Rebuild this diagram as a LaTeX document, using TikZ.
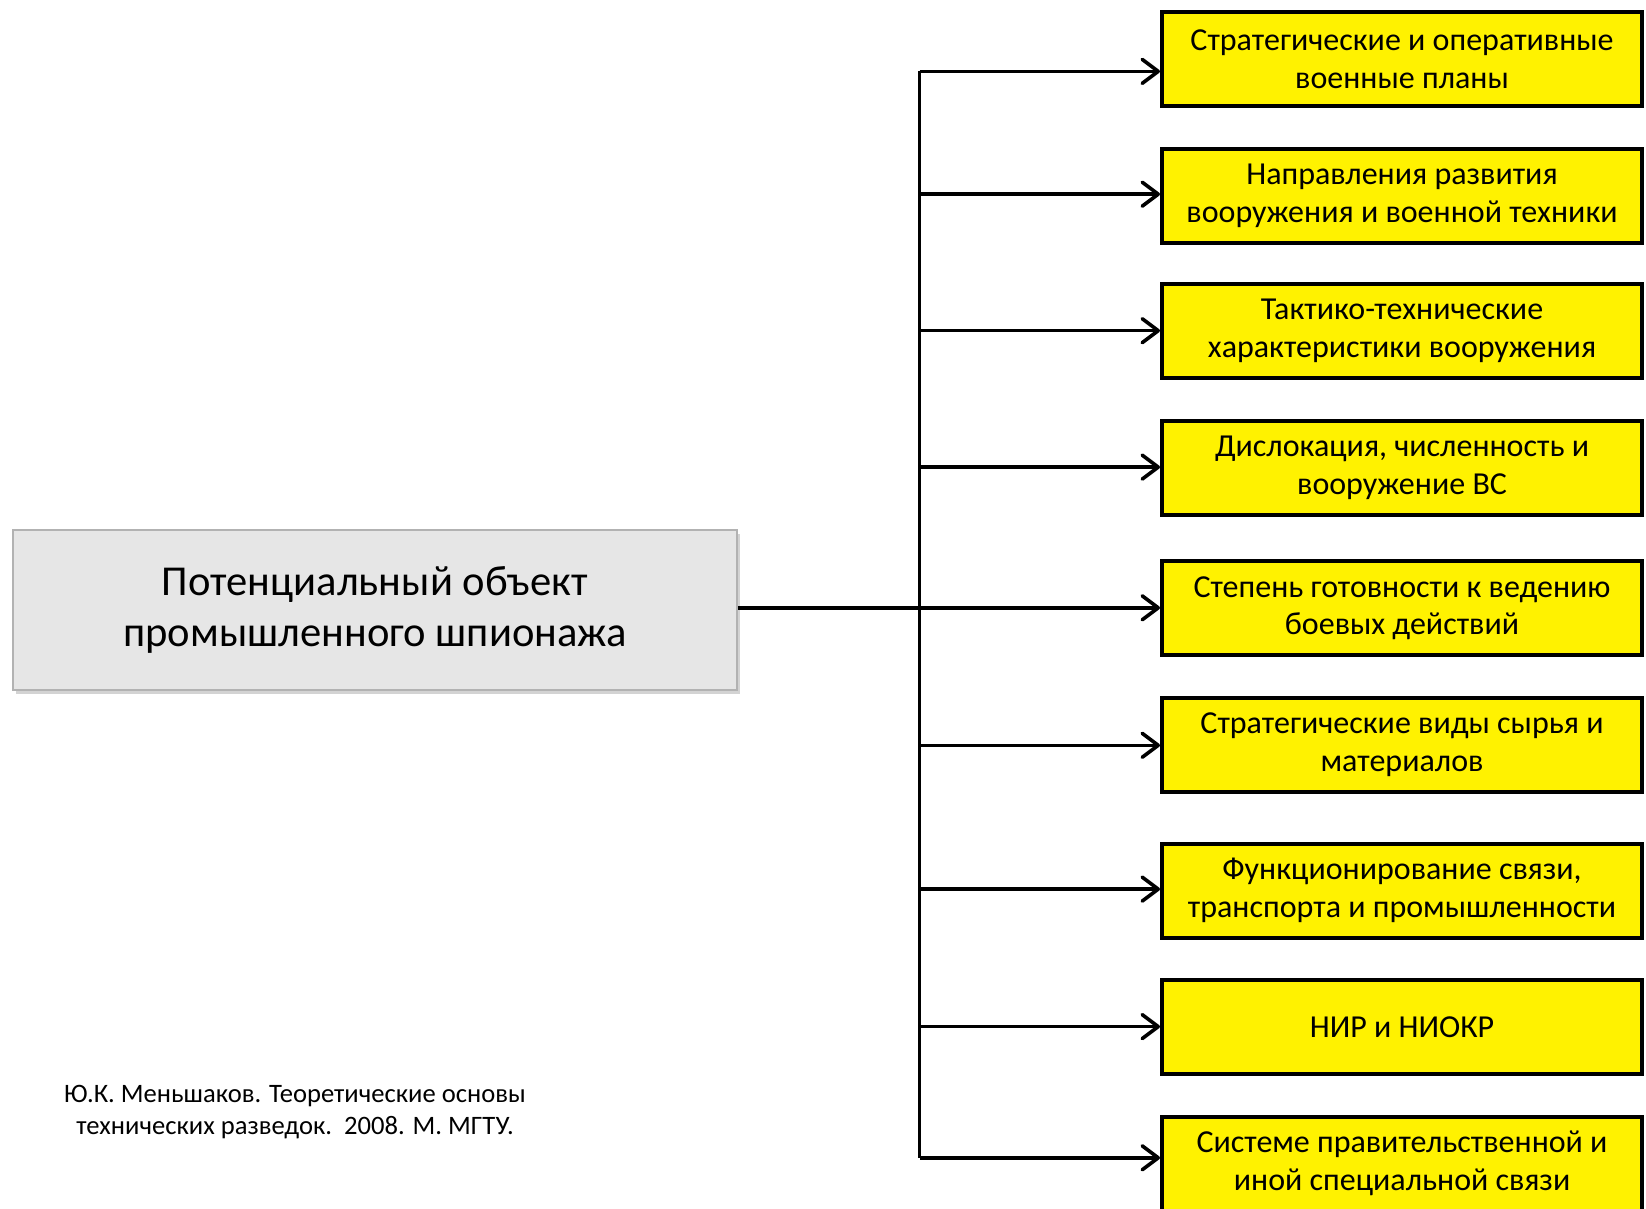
\documentclass[tikz,border=0pt]{standalone}
\usepackage{fontspec}
\setmainfont{Carlito}
\usetikzlibrary{arrows.meta,shadows}

\definecolor{boxgray}{HTML}{E6E6E6}

\tikzset{
  source/.style={draw=black!30, line width=0.8pt, fill=boxgray,
    minimum width=362pt, minimum height=80pt, align=center,
    font=\fontsize{21.3}{25.8}\selectfont,
    drop shadow={shadow xshift=1.5pt, shadow yshift=-2pt, opacity=0.35}},
  item/.style={draw=black, line width=2pt, fill=yellow,
    minimum width=240pt, minimum height=47pt, align=center,
    font=\fontsize{16}{18.9}\selectfont},
  link/.style={draw=black, line width=1.8pt},
  arrowline/.style={link, -{Straight Barb[length=8pt,width=12pt,line width=1.8pt,round]}}
}

\begin{document}
\begin{tikzpicture}[x=0.5pt,y=-0.5pt]
\useasboundingbox (0,0) rectangle (1646,1209);
\clip (0,0) rectangle (1646,1209);

% central object
\node[source] (obj) at (375,610) {Потенциальный объект\\промышленного шпионажа};

% targets
\node[item] (s1) at (1402,59.3) {Стратегические и оперативные\\военные планы};
\node[item] (s2) at (1402,195.8) {Направления развития\\вооружения и военной техники};
\node[item] (s3) at (1402,331.2) {Тактико-технические\\характеристики вооружения};
\node[item] (s4) at (1402,467.6) {Дислокация, численность и\\вооружение ВС};
\node[item] (s5) at (1402,608.3) {Степень готовности к ведению\\боевых действий};
\node[item] (s6) at (1402,744.8) {Стратегические виды сырья и\\материалов};
\node[item] (s7) at (1402,890.7) {Функционирование связи,\\транспорта и промышленности};
\node[item] (s8) at (1402,1027.1) {НИР и НИОКР};
\node[item] (s9) at (1402,1163.6) {Системе правительственной и\\иной специальной связи};

% trunk
\coordinate (t1) at (919.5,71.4);
\coordinate (t2) at (919.5,194.2);
\coordinate (t3) at (919.5,330.7);
\coordinate (t4) at (919.5,467.1);
\coordinate (t5) at (919.5,607.8);
\coordinate (t6) at (919.5,745.3);
\coordinate (t7) at (919.5,889.1);
\coordinate (t8) at (919.5,1026.6);
\coordinate (t9) at (919.5,1157.8);

\draw[link] (t1) -- (t9);
\draw[link] (obj.east |- t5) -- (t5);
\foreach \i in {1,...,9}
  \draw[arrowline] (t\i) -- (t\i -| s\i.west);

% source note
\node[align=center, font=\fontsize{13.3}{16.3}\selectfont] (cite) at (295,1112)
  {Ю.К. Меньшаков. Теоретические основы\\технических разведок.\ \ 2008. М. МГТУ.};

\end{tikzpicture}
\end{document}
